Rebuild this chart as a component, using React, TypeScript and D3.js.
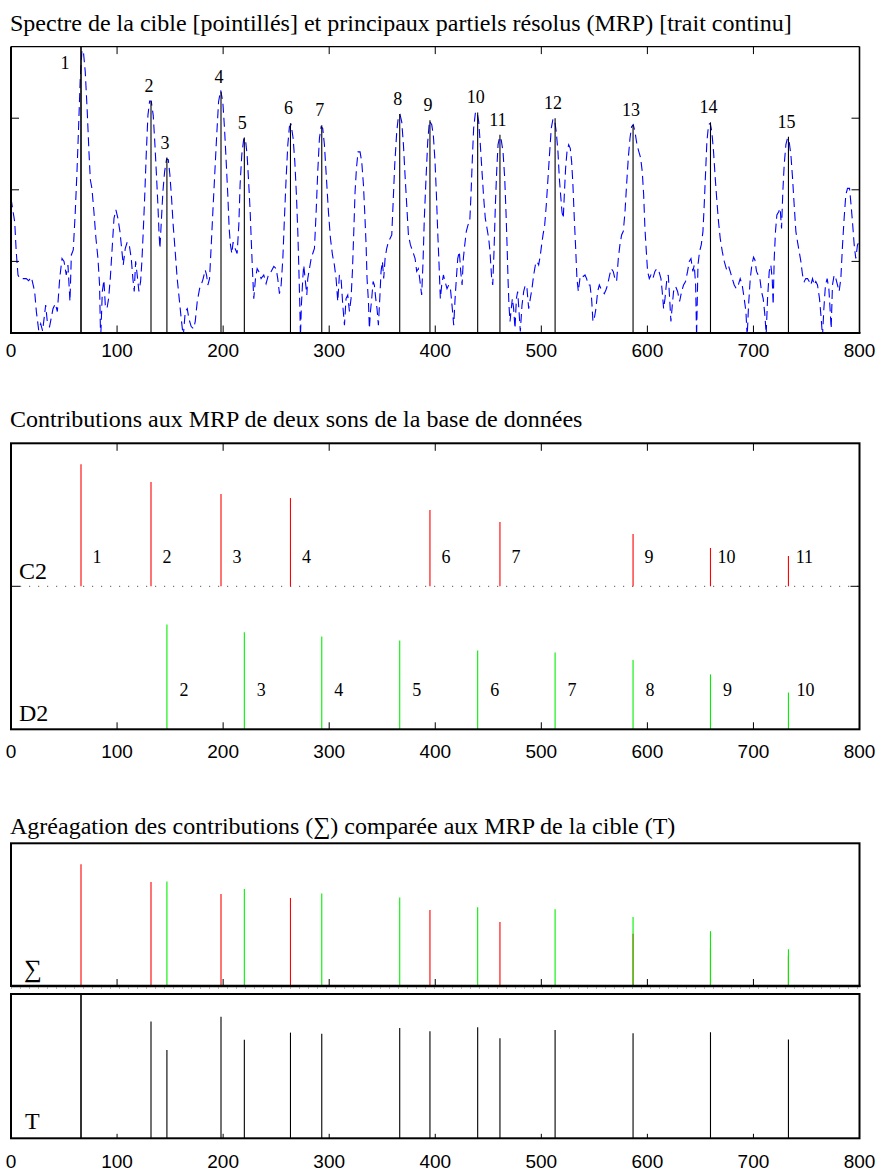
import React from 'react';
import * as d3 from 'd3';

// ---------- DATA ----------
const xTickValues = [0, 100, 200, 300, 400, 500, 600, 700, 800];
const topYTicks = [1, 2, 3];

// Spectrum of the target (dashed blue): [frequency bin, amplitude]
const spectrum: [number, number][] = [
  [0, 1.88], [3.5, 1.55], [4.9, 1.14], [6.6, 0.81], [8.2, 0.76], [14.4, 0.76], [16.6, 0.73], [19.2, 0.78],
  [22.3, 0.58], [23.9, 0.3], [26.1, 0.04], [28.0, 0.13], [29.8, 0.03], [32.7, 0.39], [34.2, 0.16], [36.4, 0.09],
  [39.6, 0.34], [41.8, 0.41], [43.7, 0.3], [45.9, 0.76], [48.1, 1.04], [50.0, 1.0], [52.1, 0.81], [53.7, 0.95],
  [55.6, 0.44], [56.9, 1.09], [58.7, 1.16], [60.6, 1.69], [62.2, 2.25], [63.8, 2.9], [65.3, 3.56], [66.9, 3.95],
  [68.2, 3.94], [70.0, 3.65], [71.9, 3.09], [73.5, 2.53], [74.8, 2.14], [76.3, 2.02], [78.2, 1.69], [80.1, 1.32],
  [82.0, 1.04], [83.5, 0.67], [84.5, -0.1], [86.1, 0.58], [87.6, 0.74], [88.9, 0.39], [90.5, 0.34], [92.0, 0.48],
  [93.6, 0.76], [95.2, 1.14], [97.1, 1.6], [98.9, 1.72], [100.8, 1.6], [102.7, 1.42], [104.6, 1.14], [105.8, 0.95],
  [107.7, 1.18], [109.6, 1.27], [111.5, 1.23], [113.4, 1.04], [114.9, 0.76], [116.2, 0.58], [117.5, 1.0], [119.0, 0.81],
  [120.6, 0.58], [122.2, 0.72], [123.4, 1.0], [124.7, 1.42], [126.0, 1.88], [127.5, 2.49], [129.1, 3.04], [130.7, 3.24],
  [132.2, 3.24], [134.1, 3.04], [135.7, 2.63], [137.3, 2.16], [138.5, 1.79], [139.5, 1.42], [140.4, 1.18], [141.7, 1.55],
  [143.2, 1.97], [144.8, 2.25], [146.7, 2.43], [148.3, 2.42], [149.8, 2.21], [151.4, 1.88], [152.9, 1.51], [154.8, 1.14],
  [156.7, 0.76], [158.6, 0.48], [160.5, 0.2], [162.4, -0.05], [164.3, 0.3], [166.2, 0.34], [167.7, 0.2], [169.9, 0.09],
  [172.1, 0.06], [173.7, 0.16], [175.6, 0.44], [177.8, 0.62], [179.3, 0.67], [181.2, 0.76], [183.1, 0.88], [184.4, 0.81],
  [185.6, 0.67], [187.2, 0.76], [188.8, 1.23], [190.3, 1.69], [191.9, 2.16], [193.8, 2.72], [195.7, 3.23], [197.7, 3.39],
  [199.7, 3.23], [201.3, 2.86], [202.9, 2.39], [204.4, 1.93], [205.7, 1.46], [206.9, 1.23], [208.2, 1.11], [209.4, 1.27],
  [211.3, 1.18], [213.2, 1.11], [214.8, 1.51], [216.0, 2.07], [217.6, 2.49], [219.5, 2.72], [221.1, 2.7], [222.6, 2.49],
  [224.2, 2.07], [225.5, 1.69], [226.7, 1.23], [227.7, 0.86], [228.9, 0.48], [230.5, 0.76], [232.1, 0.9], [233.6, 0.86],
  [235.8, 0.76], [238.3, 0.81], [240.5, 0.69], [242.7, 0.81], [245.3, 0.86], [247.8, 0.93], [250.0, 0.9], [251.5, 0.76],
  [253.1, 0.55], [254.7, 0.67], [256.3, 1.04], [257.8, 1.6], [259.4, 2.16], [261.0, 2.63], [262.5, 2.88], [264.1, 2.91],
  [266.0, 2.72], [267.6, 2.39], [269.1, 1.93], [270.4, 1.42], [271.3, 0.95], [272.3, 0.39], [272.9, -0.05], [273.8, 0.39],
  [275.1, 0.76], [276.0, 0.95], [277.3, 0.76], [278.9, 0.53], [279.8, 0.76], [281.4, 0.9], [283.0, 1.04], [284.5, 1.11],
  [286.1, 1.18], [287.7, 1.69], [289.2, 2.25], [290.8, 2.72], [292.4, 2.88], [293.9, 2.86], [295.5, 2.63], [297.4, 2.16],
  [299.3, 1.69], [301.2, 1.32], [303.1, 1.09], [304.9, 0.95], [306.5, 0.76], [308.1, 0.44], [309.6, 0.81], [311.2, 0.76],
  [312.8, 0.39], [314.4, 0.11], [315.9, 0.48], [317.5, 0.53], [319.1, 0.3], [320.6, 0.48], [321.9, 0.86], [323.2, 1.42],
  [324.4, 1.97], [325.7, 2.3], [327.2, 2.53], [329.1, 2.53], [330.7, 2.39], [332.3, 2.07], [333.5, 1.69], [334.8, 1.23],
  [335.7, 0.76], [337.0, 0.44], [337.9, 0.06], [338.9, 0.3], [340.1, 0.48], [341.4, 0.72], [342.6, 0.67], [343.9, 0.48],
  [345.1, 0.34], [346.4, 0.11], [347.7, 0.48], [348.9, 0.86], [350.2, 1.0], [351.4, 0.76], [352.7, 1.04], [354.2, 1.18],
  [355.8, 1.27], [357.4, 1.32], [359.0, 1.37], [360.2, 1.79], [361.8, 2.35], [363.7, 2.81], [365.2, 3.02], [366.8, 3.05],
  [368.4, 2.95], [370.0, 2.63], [371.5, 2.21], [373.1, 1.79], [374.7, 1.37], [376.6, 1.23], [378.8, 1.14], [381.0, 1.04],
  [382.5, 0.86], [384.1, 0.9], [385.3, 0.76], [387.2, 0.53], [388.5, 1.0], [389.7, 1.6], [391.3, 2.16], [392.9, 2.67],
  [394.5, 2.96], [396.7, 2.91], [398.2, 2.76], [399.8, 2.39], [401.1, 1.93], [402.3, 1.42], [403.6, 0.95], [404.8, 0.48],
  [406.1, 0.67], [407.7, 0.81], [409.2, 0.72], [411.1, 0.62], [412.7, 0.67], [414.3, 0.62], [415.8, 0.39], [417.4, 0.11],
  [418.7, 0.48], [419.9, 0.76], [421.2, 1.04], [422.7, 1.14], [424.0, 0.86], [425.3, 0.67], [426.5, 1.04], [427.8, 1.23],
  [429.3, 1.42], [430.9, 1.51], [432.5, 1.55], [433.7, 1.93], [435.0, 2.44], [436.2, 2.86], [437.8, 3.07], [439.4, 3.09],
  [441.0, 2.95], [442.5, 2.63], [444.1, 2.25], [445.7, 1.88], [447.2, 1.6], [448.8, 1.46], [450.4, 1.32], [451.6, 1.14],
  [453.2, 0.76], [454.2, 0.67], [455.4, 1.14], [456.7, 1.79], [457.9, 2.25], [459.2, 2.63], [460.7, 2.74], [462.3, 2.69],
  [463.9, 2.53], [465.5, 2.16], [466.7, 1.69], [467.7, 1.23], [468.6, 0.76], [469.5, 0.39], [470.5, 0.16], [471.4, 0.3],
  [472.7, 0.48], [473.9, 0.34], [475.2, 0.06], [476.5, 0.48], [477.7, 0.58], [479.0, 0.3], [480.2, 0.02], [481.8, 0.39],
  [483.4, 0.58], [484.9, 0.67], [486.5, 0.62], [488.1, 0.34], [489.6, 0.48], [491.2, 0.62], [492.8, 0.81], [494.4, 0.95],
  [495.9, 1.0], [497.5, 0.95], [499.1, 1.09], [500.3, 1.23], [501.6, 1.37], [503.2, 1.51], [504.7, 1.79], [506.3, 2.16],
  [507.9, 2.53], [509.4, 2.86], [511.0, 2.99], [512.6, 2.97], [514.1, 2.81], [515.7, 2.53], [517.0, 2.16], [518.2, 1.93],
  [519.5, 1.69], [520.7, 1.6], [521.7, 1.93], [522.9, 2.3], [524.2, 2.53], [525.8, 2.63], [527.3, 2.58], [528.6, 2.39],
  [529.8, 2.07], [531.1, 1.6], [532.4, 1.18], [533.6, 0.76], [534.9, 0.58], [536.4, 0.76], [538.0, 0.81], [539.6, 0.79],
  [541.2, 0.81], [542.7, 0.76], [544.3, 0.67], [545.9, 0.67], [547.4, 0.48], [548.7, 0.16], [549.9, 0.2], [551.5, 0.34],
  [553.1, 0.58], [554.7, 0.67], [556.2, 0.62], [557.8, 0.58], [559.4, 0.55], [560.9, 0.6], [562.5, 0.67], [564.4, 0.81],
  [566.0, 0.9], [567.8, 0.86], [569.4, 0.76], [571.0, 0.72], [572.6, 1.04], [574.1, 1.23], [575.7, 1.37], [577.3, 1.42],
  [578.9, 1.69], [580.4, 2.07], [582.0, 2.44], [583.6, 2.72], [585.1, 2.88], [586.7, 2.91], [588.3, 2.81], [590.2, 2.63],
  [592.0, 2.53], [593.6, 2.45], [595.2, 2.25], [596.5, 1.93], [597.7, 1.46], [599.0, 1.14], [600.2, 0.86], [601.8, 0.76],
  [603.4, 0.81], [605.2, 0.76], [607.1, 0.86], [609.0, 0.9], [610.9, 0.86], [612.8, 0.76], [614.0, 0.58], [615.3, 0.34],
  [616.6, 0.48], [618.4, 0.76], [619.7, 0.81], [621.0, 0.48], [622.2, 0.16], [623.5, 0.39], [624.7, 0.58], [626.6, 0.65],
  [628.5, 0.58], [630.4, 0.44], [632.3, 0.58], [634.1, 0.67], [636.0, 0.72], [637.9, 0.86], [639.5, 1.0], [641.1, 1.04],
  [642.9, 0.86], [644.2, 0.95], [645.5, 0.67], [646.4, -0.05], [647.7, 0.95], [649.2, 1.14], [650.8, 1.23], [652.4, 1.42],
  [653.6, 1.79], [654.9, 2.25], [656.1, 2.67], [657.7, 2.91], [659.3, 2.93], [660.8, 2.81], [662.4, 2.53], [664.0, 2.16],
  [665.6, 1.83], [667.1, 1.55], [668.7, 1.32], [670.6, 1.14], [672.5, 1.0], [674.4, 0.9], [676.2, 0.95], [678.1, 0.86],
  [680.0, 0.76], [681.9, 0.67], [683.8, 0.62], [685.7, 0.67], [687.5, 0.76], [689.4, 0.67], [691.3, 0.48], [692.9, 0.3],
  [694.1, -0.05], [695.4, 0.39], [697.0, 0.76], [698.5, 0.95], [700.1, 1.06], [701.4, 1.02], [702.9, 0.86], [704.5, 0.81],
  [706.1, 0.76], [707.6, 0.58], [709.2, 0.48], [710.8, 0.25], [712.0, -0.02], [713.3, 0.48], [714.9, 0.86], [716.4, 0.95],
  [717.7, 0.76], [718.6, 0.39], [719.6, 1.04], [720.8, 1.42], [722.1, 1.65], [723.7, 1.69], [725.2, 1.74], [726.5, 1.46],
  [727.7, 1.97], [729.0, 2.35], [730.6, 2.63], [732.1, 2.72], [733.7, 2.67], [735.3, 2.49], [736.9, 2.16], [738.4, 1.79],
  [740.0, 1.42], [741.6, 1.27], [743.1, 1.14], [744.7, 1.0], [746.3, 0.81], [747.9, 0.72], [749.4, 0.76], [751.0, 0.76],
  [752.6, 0.72], [754.1, 0.67], [755.7, 0.76], [757.3, 0.67], [758.8, 0.72], [760.4, 0.67], [762.3, 0.48], [763.9, 0.2],
  [765.1, -0.05], [766.4, 0.34], [767.9, 0.67], [769.5, 0.76], [771.1, 0.62], [772.4, 0.3], [773.3, 0.06], [774.5, 0.67],
  [776.1, 0.81], [777.7, 0.76], [779.3, 0.67], [780.8, 0.58], [782.4, 0.76], [784.0, 1.23], [785.5, 1.6], [787.1, 1.93],
  [788.7, 2.02], [790.6, 2.02], [791.8, 1.83], [793.4, 1.55], [795.0, 1.23], [796.5, 1.04], [798.1, 1.23], [799.4, 1.27],
];

// Main resolved partials (MRP) of the target
const partialFreqs = [66, 132, 147, 198, 220, 263.5, 293, 366.5, 395, 440, 461, 513, 586.5, 659.5, 733];
const partialAmps = [4.0, 3.24, 2.45, 3.37, 2.73, 2.93, 2.9, 3.06, 2.97, 3.08, 2.77, 3.0, 2.91, 2.94, 2.74];
const partialLabels = ['1', '2', '3', '4', '5', '6', '7', '8', '9', '10', '11', '12', '13', '14', '15'];

// Contributions of sound C2 (red)
const c2Freqs = [66, 132, 198, 263.5, 395, 461, 586.5, 659.5, 733];
const c2Amps = [0.854, 0.729, 0.645, 0.617, 0.533, 0.449, 0.366, 0.268, 0.212];
const c2Labels = ['1', '2', '3', '4', '6', '7', '9', '10', '11'];

// Contributions of sound D2 (green)
const d2Freqs = [147, 220, 293, 366.5, 440, 513, 586.5, 659.5, 733];
const d2Amps = [0.733, 0.679, 0.649, 0.621, 0.551, 0.537, 0.484, 0.384, 0.258];
const d2Labels = ['2', '3', '4', '5', '6', '7', '8', '9', '10'];

const titles = [
  'Spectre de la cible [pointillés] et principaux partiels résolus (MRP) [trait continu]',
  'Contributions aux MRP de deux sons de la base de données',
  'Agréagation des contributions (∑) comparée aux MRP de la cible (T)',
];

const SERIF = '"Liberation Serif", "Times New Roman", serif';
const SANS = '"Liberation Sans", Arial, Helvetica, sans-serif';
const RED = '#ff0000';
const GREEN = '#00f000';

export default function App() {
  const W = 881;
  const H = 1173;
  const L = 11;
  const R = 859.5;

  const x = d3.scaleLinear().domain([0, 800]).range([L, R]);
  const yTop = d3.scaleLinear().domain([0, 4]).range([333, 46.6]);
  const yMid = d3.scaleLinear().domain([0, 2]).range([729.3, 443.3]);
  const ySum = d3.scaleLinear().domain([0, 1]).range([986, 843.3]);
  const yT = d3.scaleLinear().domain([0, 4]).range([1138.3, 994]);

  const specLine = d3
    .line<[number, number]>()
    .x((d) => x(d[0]))
    .y((d) => yTop(d[1]));

  const innerTicks = xTickValues.slice(1, -1);

  const xLabels = (baseline: number) =>
    xTickValues.map((v) => (
      <text key={'xl' + baseline + v} x={x(v)} y={baseline} textAnchor="middle" fontFamily={SANS} fontSize={19} fill="#000">
        {v}
      </text>
    ));

  return (
    <svg width={W} height={H} style={{ position: 'absolute', left: 0, top: 0, background: '#fff' }}>
      <defs>
        <clipPath id="clipTop">
          <rect x={L} y={yTop(4)} width={R - L} height={yTop(0) - yTop(4)} />
        </clipPath>
      </defs>

      {/* ---------- Titles ---------- */}
      <text x={10} y={31} fontFamily={SERIF} fontSize={24} fill="#000">{titles[0]}</text>
      <text x={10} y={427} fontFamily={SERIF} fontSize={24} fill="#000">{titles[1]}</text>
      <text x={10} y={834} fontFamily={SERIF} fontSize={24} fill="#000">{titles[2]}</text>

      {/* ---------- Panel 1 : spectrum ---------- */}
      <g>
        <path
          d={specLine(spectrum) || ''}
          fill="none"
          stroke="#0000ff"
          strokeWidth={1.1}
          strokeDasharray="9,5"
          clipPath="url(#clipTop)"
        />
        {partialFreqs.map((f, i) => (
          <line key={'p' + i} x1={x(f)} x2={x(f)} y1={yTop(0)} y2={yTop(Math.min(partialAmps[i], 4))} stroke="#000" strokeWidth={i === 0 ? 1.6 : 1.1} />
        ))}
        {partialFreqs.map((f, i) =>
          partialAmps[i] >= 4 ? (
            <text key={'pl' + i} x={x(f) - 16} y={yTop(3.69)} textAnchor="middle" fontFamily={SERIF} fontSize={18}>
              {partialLabels[i]}
            </text>
          ) : (
            <text key={'pl' + i} x={x(f) - 2} y={yTop(partialAmps[i]) - 9} textAnchor="middle" fontFamily={SERIF} fontSize={18}>
              {partialLabels[i]}
            </text>
          )
        )}
        {/* frame */}
        <line x1={L} x2={R} y1={yTop(4)} y2={yTop(4)} stroke="#000" strokeWidth={1.2} />
        <line x1={R} x2={R} y1={yTop(4)} y2={yTop(0)} stroke="#000" strokeWidth={1.6} />
        <line x1={L} x2={L} y1={yTop(4)} y2={yTop(0)} stroke="#000" strokeWidth={2} />
        <line x1={L - 1} x2={R + 1} y1={yTop(0)} y2={yTop(0)} stroke="#000" strokeWidth={2.2} />
        {innerTicks.map((v) => (
          <g key={'tt' + v}>
            <line x1={x(v)} x2={x(v)} y1={yTop(4)} y2={yTop(4) + 7.5} stroke="#000" strokeWidth={1} />
            <line x1={x(v)} x2={x(v)} y1={yTop(0)} y2={yTop(0) - 7.5} stroke="#000" strokeWidth={1} />
          </g>
        ))}
        {topYTicks.map((v) => (
          <g key={'ty' + v}>
            <line x1={L} x2={L + 8} y1={yTop(v)} y2={yTop(v)} stroke="#000" strokeWidth={1} />
            <line x1={R} x2={R - 8} y1={yTop(v)} y2={yTop(v)} stroke="#000" strokeWidth={1} />
          </g>
        ))}
        {xLabels(357)}
      </g>

      {/* ---------- Panel 2 : contributions ---------- */}
      <g>
        <line x1={L} x2={R} y1={yMid(1)} y2={yMid(1)} stroke="#777" strokeWidth={1.2} strokeDasharray="1.2,7.8" />
        {c2Freqs.map((f, i) => (
          <g key={'c2' + i}>
            <line x1={x(f)} x2={x(f)} y1={yMid(1)} y2={yMid(1 + c2Amps[i])} stroke={RED} strokeWidth={1.1} />
            <text x={x(f) + 16} y={yMid(1) - 23} textAnchor="middle" fontFamily={SERIF} fontSize={18}>
              {c2Labels[i]}
            </text>
          </g>
        ))}
        {d2Freqs.map((f, i) => (
          <g key={'d2' + i}>
            <line x1={x(f)} x2={x(f)} y1={yMid(0)} y2={yMid(d2Amps[i])} stroke={GREEN} strokeWidth={1.1} />
            <text x={x(f) + 17} y={yMid(0) - 33.5} textAnchor="middle" fontFamily={SERIF} fontSize={18}>
              {d2Labels[i]}
            </text>
          </g>
        ))}
        <text x={19} y={579} fontFamily={SERIF} fontSize={24}>C2</text>
        <text x={19} y={720.5} fontFamily={SERIF} fontSize={24}>D2</text>
        <rect x={L} y={yMid(2)} width={R - L} height={yMid(0) - yMid(2)} fill="none" stroke="#000" strokeWidth={2} />
        {innerTicks.map((v) => (
          <g key={'mt' + v}>
            <line x1={x(v)} x2={x(v)} y1={yMid(2)} y2={yMid(2) + 7.5} stroke="#000" strokeWidth={1} />
            <line x1={x(v)} x2={x(v)} y1={yMid(0)} y2={yMid(0) - 7} stroke="#000" strokeWidth={1} />
          </g>
        ))}
        <line x1={L} x2={L + 9} y1={yMid(1)} y2={yMid(1)} stroke="#000" strokeWidth={1} />
        <line x1={R} x2={R - 9} y1={yMid(1)} y2={yMid(1)} stroke="#000" strokeWidth={1} />
        {xLabels(758)}
      </g>

      {/* ---------- Panel 3 : aggregation (Σ) ---------- */}
      <g>
        {c2Freqs.map((f, i) => (
          <line key={'sc' + i} x1={x(f)} x2={x(f)} y1={ySum(0)} y2={ySum(c2Amps[i])} stroke={RED} strokeWidth={1.1} />
        ))}
        {d2Freqs.map((f, i) => (
          <line key={'sd' + i} x1={x(f)} x2={x(f)} y1={ySum(0)} y2={ySum(d2Amps[i])} stroke={GREEN} strokeWidth={1.1} />
        ))}
        <rect x={L} y={ySum(1)} width={R - L} height={ySum(0) - ySum(1)} fill="none" stroke="#000" strokeWidth={2} />
        <line x1={L} x2={R + 1} y1={ySum(0)} y2={ySum(0)} stroke="#000" strokeWidth={2.6} />
        <line x1={L} x2={R} y1={ySum(0) + 2} y2={ySum(0) + 2} stroke="#666" strokeWidth={1} strokeDasharray="1,8" />
        {innerTicks.map((v) => (
          <line key={'st' + v} x1={x(v)} x2={x(v)} y1={ySum(0)} y2={ySum(0) - 7} stroke="#000" strokeWidth={1} />
        ))}
        <text x={24} y={977} fontFamily={SERIF} fontSize={25}>∑</text>
      </g>

      {/* ---------- Panel 4 : target MRP (T) ---------- */}
      <g>
        {partialFreqs.map((f, i) => (
          <line key={'t' + i} x1={x(f)} x2={x(f)} y1={yT(0)} y2={yT(Math.min(partialAmps[i], 4))} stroke="#000" strokeWidth={i === 0 ? 1.6 : 1.1} />
        ))}
        <rect x={L} y={yT(4)} width={R - L} height={yT(0) - yT(4)} fill="none" stroke="#000" strokeWidth={2} />
        {innerTicks.map((v) => (
          <line key={'tb' + v} x1={x(v)} x2={x(v)} y1={yT(0)} y2={yT(0) - 4.5} stroke="#000" strokeWidth={1} />
        ))}
        <text x={25} y={1129} fontFamily={SERIF} fontSize={24}>T</text>
        {xLabels(1168)}
      </g>
    </svg>
  );
}
